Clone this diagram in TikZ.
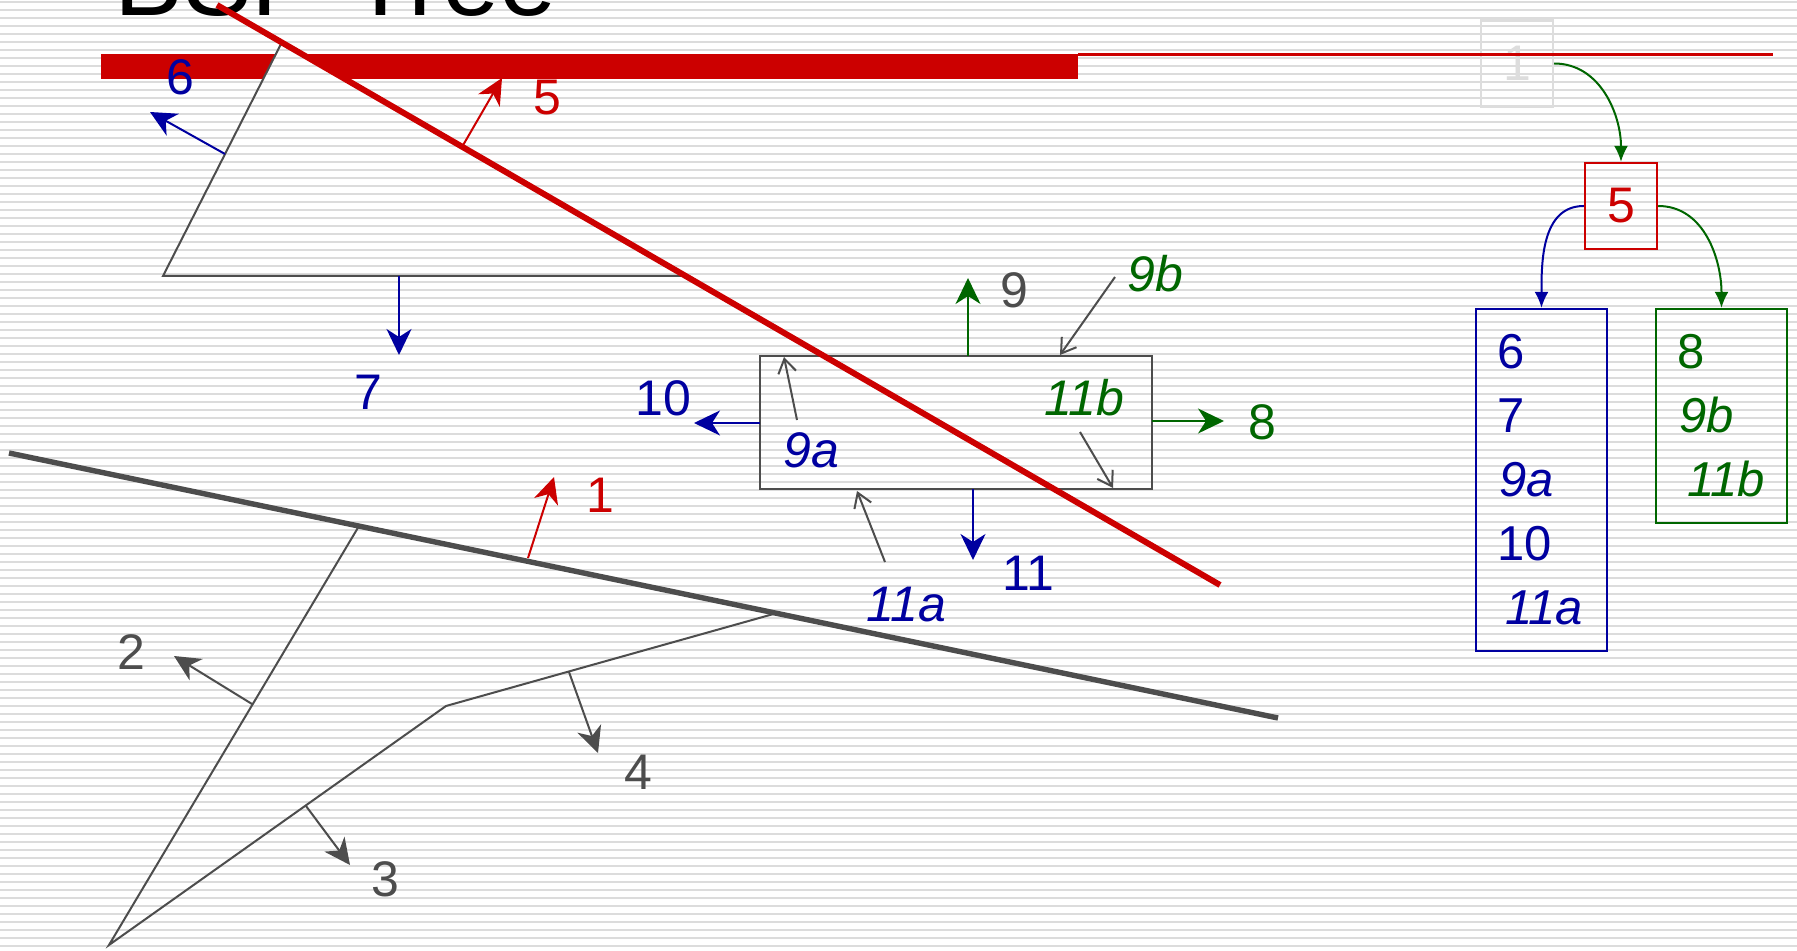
\documentclass[tikz,border=0pt]{standalone}
\usepackage{fontspec}
\setmainfont{Liberation Sans}
\usetikzlibrary{arrows.meta}
\definecolor{bspred}{HTML}{CC0000}
\definecolor{bspblue}{HTML}{0000A0}
\definecolor{bspgreen}{HTML}{006600}
\definecolor{bspgrey}{HTML}{4D4D4D}
\definecolor{stripegrey}{HTML}{DCDCDC}
\definecolor{boxgrey}{HTML}{DDDDDD}
\newcommand{\bgstripes}{\foreach \k in {0,...,118} \draw[stripegrey, line width=1pt] (0,2+8*\k) -- (1797,2+8*\k);}

\begin{document}
\begin{tikzpicture}[x=0.5pt, y=-0.5pt,
	lbl/.style={inner sep=0pt, font=\fontsize{25}{30}\selectfont},
	edge/.style={bspgrey, line width=1pt},
	normal/.style={line width=1pt, -{Stealth[length=13pt,width=12.5pt,inset=4pt]}},
	pointer/.style={bspgrey, line width=1pt, -{Straight Barb[length=7pt,width=9pt]}},
	treebox/.style={draw, line width=1.2pt, minimum width=36pt, minimum height=43pt, inner sep=0pt, font=\fontsize{25}{30}\selectfont},
	listbox/.style={draw, line width=1.2pt, text width=44.5pt, inner xsep=10.5pt, inner ysep=0pt, align=left, font=\fontsize{24.5}{32}\selectfont},
	tarrow/.style={line width=1pt, -{Latex[length=8pt,width=7pt]}}]
	\useasboundingbox (0,0) rectangle (1797,951);
	\fill[white] (0,0) rectangle (1797,951);
	\bgstripes
	\node[anchor=base west, inner sep=0pt, font=\fontsize{51.5}{60}\selectfont] (title) at (114,16) {BSP Tree};
	\fill[bspred] (101,54) rectangle (1078,79);
	\coordinate (apex) at (281,44);
	\coordinate (tl) at (163,276);
	\coordinate (tr) at (685,276);
	\begin{scope}
		\clip (apex) -- (tl) -- (tr) -- cycle;
		\fill[white] (0,0) rectangle (1797,951);
		\bgstripes
	\end{scope}
	\draw[edge] (apex) -- (tl) -- (tr);
	\draw[bspgrey, line width=1.2pt] (760,356) rectangle (1152,489);
	\draw[edge] (359,526) -- (109,945) -- (446,706) -- (777,613);
	\draw[bspgrey, line width=2.7pt] (9,453) -- (1278,718);
	\draw[bspred, line width=3pt] (217,5) -- (1220,585);
	\draw[normal, bspred] (462,147) -- (502,78);
	\draw[normal, bspblue] (225,154) -- (150,112);
	\draw[normal, bspblue] (399,276) -- (399,355);
	\draw[normal, bspgreen] (968,356) -- (968,278);
	\draw[normal, bspblue] (760,423) -- (694,423);
	\draw[normal, bspgreen] (1152,421) -- (1224,421);
	\draw[normal, bspblue] (973,489) -- (973,560);
	\draw[normal, bspred] (528,558) -- (554,477);
	\draw[normal, bspgrey] (252,704) -- (174,656);
	\draw[normal, bspgrey] (306,806) -- (350,865);
	\draw[normal, bspgrey] (569,672) -- (598,753);
	\draw[pointer] (1115,277) -- (1060,355);
	\draw[pointer] (797,420) -- (784,357);
	\draw[pointer] (1080,432) -- (1113,488);
	\draw[pointer] (885,562) -- (857,491);
	\node[lbl, text=bspblue] (l6) at (180,77) {6};
	\node[lbl, text=bspred] (l5) at (547,98) {5};
	\node[lbl, text=bspblue] (l7) at (368,392) {7};
	\node[lbl, text=bspgrey] (l9) at (1014,290) {9};
	\node[lbl, text=bspgreen] (l9b) at (1155,274) {\itshape 9b};
	\node[lbl, text=bspblue] (l10) at (663,398) {10};
	\node[lbl, text=bspblue] (l9a) at (811,450) {\itshape 9a};
	\node[lbl, text=bspgreen] (l11b) at (1084,398) {\itshape 11b};
	\node[lbl, text=bspgreen] (l8) at (1262,422) {8};
	\node[lbl, text=bspblue] (l11) at (1028,573) {11};
	\node[lbl, text=bspblue] (l11a) at (906,605) {\itshape 11a};
	\node[lbl, text=bspred] (l1) at (600,495) {1};
	\node[lbl, text=bspgrey] (l2) at (131,652) {2};
	\node[lbl, text=bspgrey] (l3) at (385,879) {3};
	\node[lbl, text=bspgrey] (l4) at (638,772) {4};
	\node[treebox, draw=boxgrey, text=boxgrey] (t1) at (1517,63.5) {1};
	\draw[bspred, line width=1.5pt] (1078,55) -- (1773,55);
	\node[treebox, draw=bspred, text=bspred] (t5) at (1621,206) {5};
	\node[listbox, draw=bspblue, text=bspblue, minimum height=171pt] (tl5) at (1541.5,480) {6\\7\\\hspace{1pt}\textit{9a}\\10\\\hspace{4pt}\textit{11a}};
	\node[listbox, draw=bspgreen, text=bspgreen, minimum height=107pt] (tr5) at (1721.5,416) {8\\\hspace{1pt}\textit{9b}\\\hspace{5pt}\textit{11b}};
	\draw[tarrow, bspgreen] (t1.east) to[out=0, in=90] (t5.north);
	\draw[tarrow, bspblue] (t5.west) to[out=180, in=90] (tl5.north);
	\draw[tarrow, bspgreen] (t5.east) to[out=0, in=90] (tr5.north);
\end{tikzpicture}
\end{document}
